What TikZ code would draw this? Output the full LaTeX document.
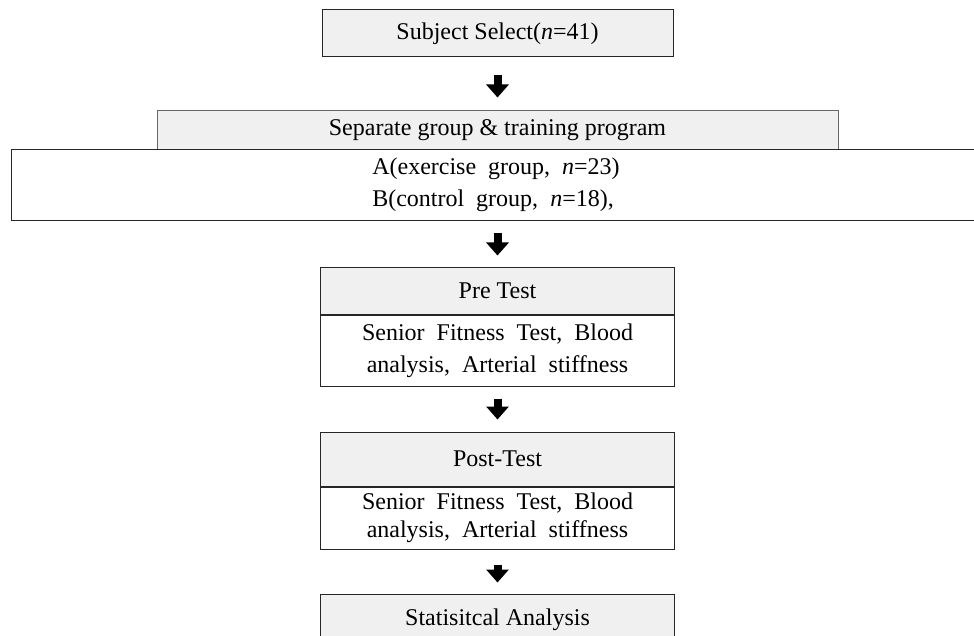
\documentclass[tikz,border=0pt]{standalone}
\usepackage{fontspec}
\setmainfont{Liberation Serif}
\usetikzlibrary{arrows.meta,positioning}

\definecolor{headgray}{HTML}{F0F0F0}
\newcommand\widegap{\spaceskip=0.5em\relax}

\tikzset{
    headbox/.style={draw=black!85, line width=1pt, fill=headgray, minimum width=354pt, inner sep=0pt, font=\fontsize{24}{28}\selectfont},
    bodybox/.style={draw=black!85, line width=1pt, fill=white, minimum width=354pt, inner sep=0pt, align=center, font=\fontsize{24}{32}\selectfont\widegap},
    flow/.style={line width=8pt, -{Triangle[width=22pt,length=13pt]}, shorten <=12pt, shorten >=12pt}
}

\begin{document}
\begin{tikzpicture}[x=1pt, y=-1pt]
        \useasboundingbox (0,0) rectangle (974,636);

        % boxes
        \node[headbox, minimum width=351pt, minimum height=47pt] (sel) at (497.5, 33.5) {Subject Select(\textit{n}=41)};
        \node[headbox, draw=black!60, minimum width=681pt, minimum height=39pt] (sep) at (497.5, 130.5) {Separate group \& training program};
        \node[bodybox, minimum width=970pt, minimum height=71pt] (grp) at (496, 185.5) {};
        \node[font=\fontsize{24}{32}\selectfont\widegap, align=left, anchor=north, inner sep=0pt] (grptxt) at (496, 158) {A(exercise group, \textit{n}=23)\\B(control group, \textit{n}=18),};

        \node[headbox, minimum height=46pt] (prehead) at (497.5, 291) {Pre Test};
        \node[bodybox, minimum height=71pt, below=0pt of prehead] (prebody) {Senior Fitness Test, Blood\\analysis, Arterial stiffness};

        \node[headbox, minimum height=54pt] (posthead) at (497.5, 459) {Post-Test};
        \node[bodybox, minimum height=62pt, font=\fontsize{24}{28}\selectfont\widegap, below=0pt of posthead] (postbody) {Senior Fitness Test, Blood\\analysis, Arterial stiffness};

        \node[headbox, minimum height=46pt, text depth=0pt] (stat) at (497.5, 617) {Statisitcal Analysis};

        % arrows
        \draw[flow, shorten <=18pt, shorten >=13pt] (sel) -- (sep);
        \draw[flow] (grp.south -| prehead.north) -- (prehead.north);
        \draw[flow] (prebody) -- (posthead);
        \draw[flow, shorten <=15pt, shorten >=11pt] (postbody) -- (stat);
\end{tikzpicture}
\end{document}
